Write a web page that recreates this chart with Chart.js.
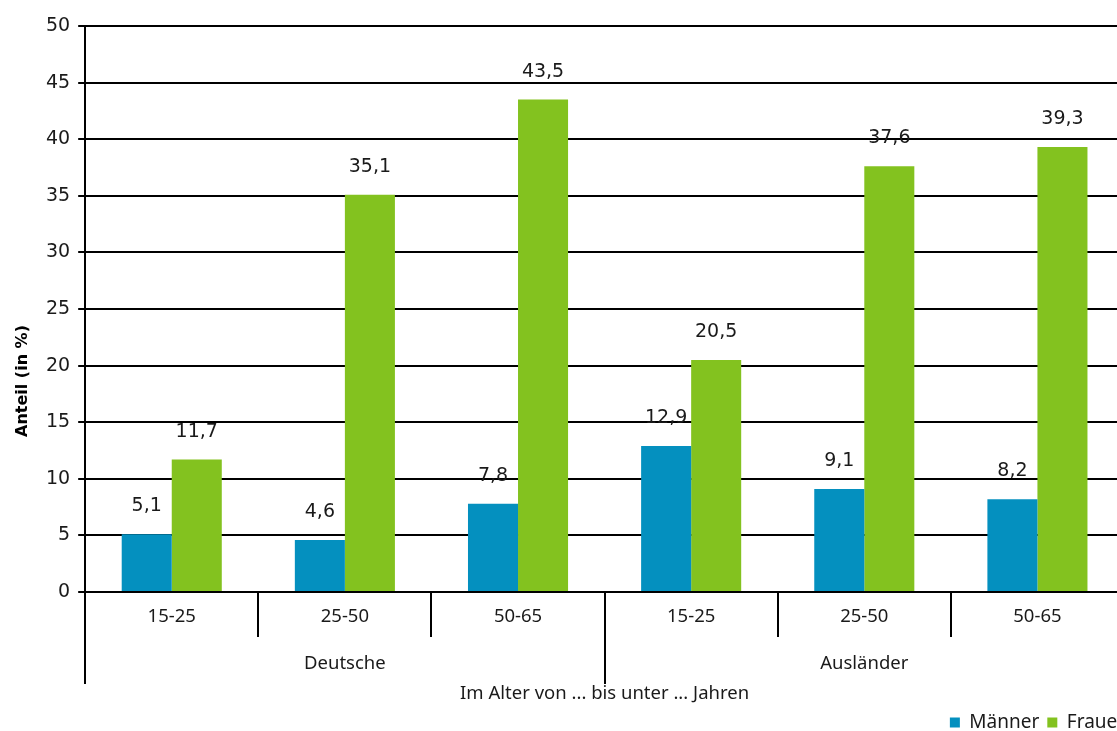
<!DOCTYPE html>
<html lang="de">
<head>
<meta charset="utf-8">
<script src="https://cdn.jsdelivr.net/npm/chart.js@4.4.1/dist/chart.umd.min.js"></script>
<style>
  html, body { margin: 0; padding: 0; background: #fff; overflow: hidden; }
  #wrap { width: 1137px; height: 742px; }
</style>
</head>
<body>
<div id="wrap"><canvas id="anteilChart"></canvas></div>
<script>
/* ─────────────────── datos ──────────────── */
const categorias = ["15-25", "25-50", "50-65", "15-25", "25-50", "50-65"];
const grupos     = ["Deutsche", "Ausländer"];
const maenner    = [5.1, 4.6, 7.8, 12.9, 9.1, 8.2];
const frauen     = [11.7, 35.1, 43.5, 20.5, 37.6, 39.3];
const yTicks     = [0, 5, 10, 15, 20, 25, 30, 35, 40, 45, 50];

const AZUL  = "#0490bf";
const VERDE = "#83c21f";
const TEXTO = "#1a1a1a";

/* ─────────────────── plugins ──────────────── */
// etiquetas de valor encima de cada barra (coma decimal)
const valueLabels = {
  id: "valueLabels",
  afterDatasetsDraw(chart) {
    const ctx = chart.ctx;
    ctx.save();
    ctx.font = "19px 'DejaVu Sans'";
    ctx.fillStyle = TEXTO;
    ctx.textAlign = "center";
    ctx.textBaseline = "alphabetic";
    chart.data.datasets.forEach((ds, i) => {
      chart.getDatasetMeta(i).data.forEach((bar, j) => {
        const txt = ds.data[j].toFixed(1).replace(".", ",");
        ctx.fillText(txt, bar.x, bar.y - 23);
      });
    });
    ctx.restore();
  }
};

// separadores, nombres de grupo y título del eje y
const groupAxis = {
  id: "groupAxis",
  afterDraw(chart) {
    const ctx = chart.ctx;
    const x = chart.scales.x;
    const area = chart.chartArea;
    const step = x.getPixelForValue(1) - x.getPixelForValue(0);
    ctx.save();
    ctx.strokeStyle = "#000";
    ctx.lineWidth = 2;
    for (let i = 0; i <= categorias.length; i++) {
      const px = Math.round(x.getPixelForValue(0) - step / 2 + i * step);
      const largo = (i % 3 === 0);
      ctx.beginPath();
      ctx.moveTo(px, area.bottom);
      ctx.lineTo(px, area.bottom + (largo ? 92 : 45));
      ctx.stroke();
    }
    ctx.font = "18.5px 'Noto Sans'";
    ctx.fillStyle = TEXTO;
    ctx.textAlign = "center";
    ctx.textBaseline = "middle";
    grupos.forEach((g, k) => {
      const cx = (x.getPixelForValue(k * 3) + x.getPixelForValue(k * 3 + 2)) / 2;
      ctx.fillText(g, cx, area.bottom + 72);
    });

    // "Anteil (in %)" va centrado en la altura total, no en el área
    ctx.translate(23, 381);
    ctx.rotate(-Math.PI / 2);
    ctx.font = "bold 16px 'DejaVu Sans'";
    ctx.fillStyle = "#000";
    ctx.fillText("Anteil (in %)", 0, 0);
    ctx.restore();
  }
};

/* ──────────────── gráfico ──────────────── */
const ctx = document.getElementById("anteilChart").getContext("2d");
new Chart(ctx, {
  type: "bar",
  data: {
    labels: categorias,
    datasets: [
      { label: "Männer", data: maenner, backgroundColor: AZUL },
      { label: "Frauen", data: frauen, backgroundColor: VERDE }
    ]
  },
  options: {
    responsive: true,
    maintainAspectRatio: false,
    animation: false,
    categoryPercentage: 0.578,
    barPercentage: 1,
    layout: { padding: { top: 26, right: 0, left: 38, bottom: 0 } },
    plugins: {
      legend: {
        position: "bottom",
        align: "end",
        labels: {
          boxWidth: 10, boxHeight: 10, padding: 8,
          color: TEXTO,
          font: { family: "'Noto Sans'", size: 19 }
        }
      },
      tooltip: { enabled: false }
    },
    scales: {
      x: {
        grid: { display: false, drawTicks: false },
        border: { display: true, color: "#000", width: 2 },
        ticks: { color: TEXTO, padding: 14, font: { family: "'Noto Sans'", size: 18.5 } },
        afterFit: axis => { axis.height = 113; },
        title: {
          display: true,
          text: "Im Alter von ... bis unter ... Jahren",
          color: TEXTO,
          padding: { top: 0, bottom: 0 },
          font: { family: "'Noto Sans'", size: 18.5 }
        }
      },
      y: {
        min: 0, max: 50,
        afterBuildTicks: axis => { axis.ticks = yTicks.map(v => ({ value: v })); },
        grid: { color: "#000", lineWidth: 2, tickLength: 7 },
        border: { color: "#000", width: 2 },
        ticks: { color: TEXTO, padding: 8, font: { family: "'DejaVu Sans'", size: 19 } }
      },
      // eje vacío: sólo reserva el margen derecho del área (la leyenda no)
      margen: {
        type: "linear",
        position: "right",
        grid: { display: false },
        border: { display: false },
        ticks: { display: false },
        afterFit: axis => { axis.width = 13; }
      }
    }
  },
  plugins: [valueLabels, groupAxis]
});
</script>
</body>
</html>
